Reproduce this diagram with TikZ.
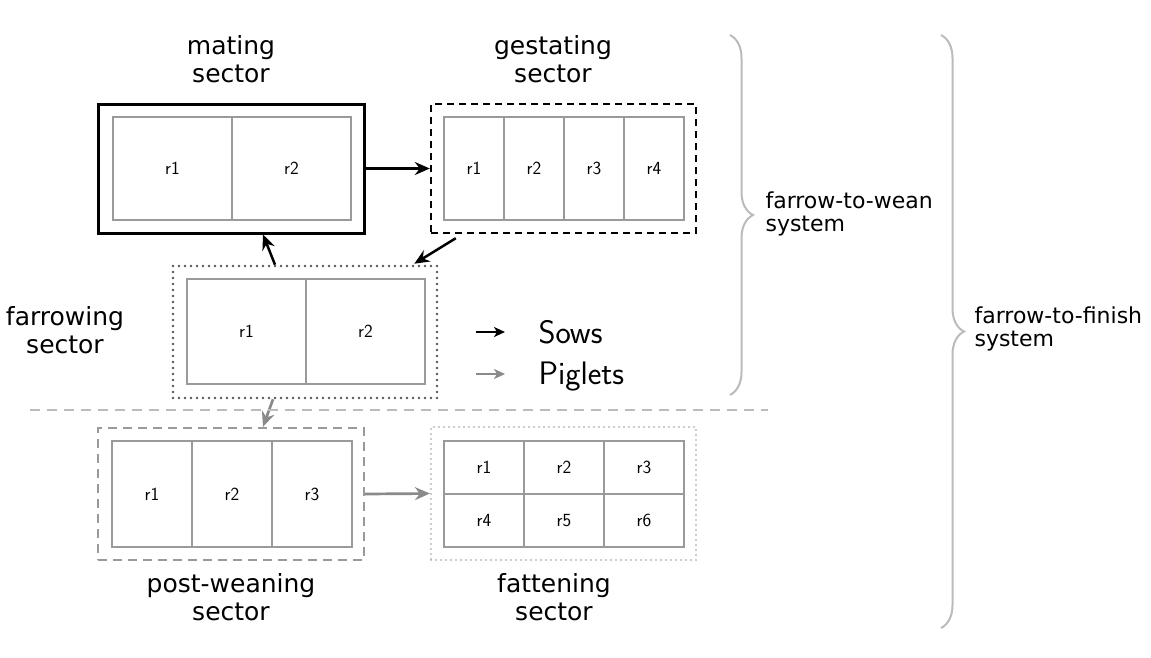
\documentclass[tikz,border=0pt]{standalone}
\usepackage{fontspec}
\newfontfamily\labelfont{DejaVu Sans}
\usetikzlibrary{arrows.meta,decorations.pathreplacing,calc}

\definecolor{cellgray}{HTML}{9A9A9A}
\definecolor{midgray}{HTML}{555555}
\definecolor{pigletgray}{HTML}{8A8A8A}
\definecolor{lightgray}{HTML}{BBBBBB}

\tikzset{
  cell/.style={draw=cellgray, line width=1.4pt, inner sep=0pt,
    font=\sffamily\fontsize{18.5}{20}\selectfont},
  title/.style={align=center, font=\labelfont\fontsize{25}{27.5}\selectfont},
  systext/.style={align=left, anchor=west, font=\labelfont\fontsize{22}{22.5}\selectfont},
  legendtext/.style={anchor=base west, font=\sffamily\fontsize{32.5}{34}\selectfont},
  sow/.style={draw=black, line width=2.5pt, -{Stealth[length=15pt,width=13pt,inset=5pt]}},
  piglet/.style={draw=pigletgray, line width=2.7pt, -{Stealth[length=15pt,width=13pt,inset=5pt]}},
  sowkey/.style={draw=black, line width=2.3pt, -{Stealth[length=11pt,width=10pt,inset=3pt]}},
  pigletkey/.style={draw=pigletgray, line width=2.3pt, -{Stealth[length=11pt,width=10pt,inset=3pt]}},
  sysbrace/.style={draw=lightgray, line width=2pt,
    decorate, decoration={brace, amplitude=23pt}},
}

\begin{document}
\begin{tikzpicture}[x=1pt, y=-1pt]
\useasboundingbox (0,0) rectangle (1151,657);

% ---- sector outlines ----
\node[draw=black, line width=3pt, minimum width=266pt, minimum height=129pt, inner sep=0pt]
  (mating) at (231,168.5) {};
\node[draw=black, line width=2.4pt, dash pattern=on 7pt off 5pt,
  minimum width=265pt, minimum height=129pt, inner sep=0pt]
  (gestating) at (563.5,168.5) {};
\node[draw=midgray, line width=2.6pt, dash pattern=on 0pt off 6pt, line cap=round,
  minimum width=264pt, minimum height=132pt, inner sep=0pt]
  (farrowing) at (305,332) {};
\node[draw=cellgray, line width=2.4pt, dash pattern=on 9pt off 6pt,
  minimum width=266pt, minimum height=132pt, inner sep=0pt]
  (postwean) at (231,494) {};
\node[draw=lightgray, line width=2.2pt, dash pattern=on 0pt off 5pt, line cap=round,
  minimum width=265pt, minimum height=133pt, inner sep=0pt]
  (fattening) at (563.5,493.5) {};

% ---- rooms ----
\node[cell, minimum width=119pt, minimum height=103pt] (m1) at (172.5,168.5) {r1};
\node[cell, minimum width=119pt, minimum height=103pt] (m2) at (291.5,168.5) {r2};

\node[cell, minimum width=60pt, minimum height=103pt] (g1) at (474,168.5) {r1};
\node[cell, minimum width=60pt, minimum height=103pt] (g2) at (534,168.5) {r2};
\node[cell, minimum width=60pt, minimum height=103pt] (g3) at (594,168.5) {r3};
\node[cell, minimum width=60pt, minimum height=103pt] (g4) at (654,168.5) {r4};

\node[cell, minimum width=119pt, minimum height=105pt] (f1) at (246.5,331.5) {r1};
\node[cell, minimum width=119pt, minimum height=105pt] (f2) at (365.5,331.5) {r2};

\node[cell, minimum width=80pt, minimum height=106pt] (p1) at (152,494) {r1};
\node[cell, minimum width=80pt, minimum height=106pt] (p2) at (232,494) {r2};
\node[cell, minimum width=80pt, minimum height=106pt] (p3) at (312,494) {r3};

\node[cell, minimum width=80pt, minimum height=53pt] (t1) at (484,467.5) {r1};
\node[cell, minimum width=80pt, minimum height=53pt] (t2) at (564,467.5) {r2};
\node[cell, minimum width=80pt, minimum height=53pt] (t3) at (644,467.5) {r3};
\node[cell, minimum width=80pt, minimum height=53pt] (t4) at (484,520.5) {r4};
\node[cell, minimum width=80pt, minimum height=53pt] (t5) at (564,520.5) {r5};
\node[cell, minimum width=80pt, minimum height=53pt] (t6) at (644,520.5) {r6};

% ---- sector titles ----
\node[title] (tmating) at (231,59) {mating\\sector};
\node[title] (tgestating) at (553,59) {gestating\\sector};
\node[title] (tfarrowing) at (65,330) {farrowing\\sector};
\node[title] (tpostwean) at (231,597) {post-weaning\\sector};
\node[title] (tfattening) at (554,597) {fattening\\sector};

% ---- flows ----
\draw[sow] (mating.east) -- (gestating.west);
\draw[sow] ([xshift=26pt,yshift=-4pt]gestating.south west) -- ([xshift=-24pt,yshift=1pt]farrowing.north east);
\draw[sow] ([xshift=-30pt]farrowing.north) -- ([xshift=32pt]mating.south);
\draw[piglet] ([xshift=-32pt]farrowing.south) -- ([xshift=32pt]postwean.north);
\draw[piglet] (postwean.east) -- (fattening.west);

% ---- boundary between breeding and growing units ----
\coordinate (divL) at (30,410);
\coordinate (divR) at (768,410);
\draw[lightgray, line width=2pt, dash pattern=on 10pt off 7pt] (divL) -- (divR);

% ---- legend ----
\coordinate (k1a) at (476,332);
\coordinate (k1b) at (505,332);
\coordinate (k2a) at (476,374);
\coordinate (k2b) at (505,374);
\draw[sowkey] (k1a) -- (k1b);
\draw[pigletkey] (k2a) -- (k2b);
\node[legendtext] (lsows) at (535,343) {Sows};
\node[legendtext] (lpiglets) at (535,384) {Piglets};

% ---- production systems ----
\coordinate (b1top) at (730,35);
\coordinate (b1bot) at (730,395);
\coordinate (b2top) at (941,35);
\coordinate (b2bot) at (941,628);
\draw[sysbrace] (b1top) -- (b1bot);
\draw[sysbrace] (b2top) -- (b2bot);
\node[systext] (wean) at (762,214) {farrow-to-wean\\system};
\node[systext] (finish) at (971,329) {farrow-to-finish\\system};
\end{tikzpicture}
\end{document}
